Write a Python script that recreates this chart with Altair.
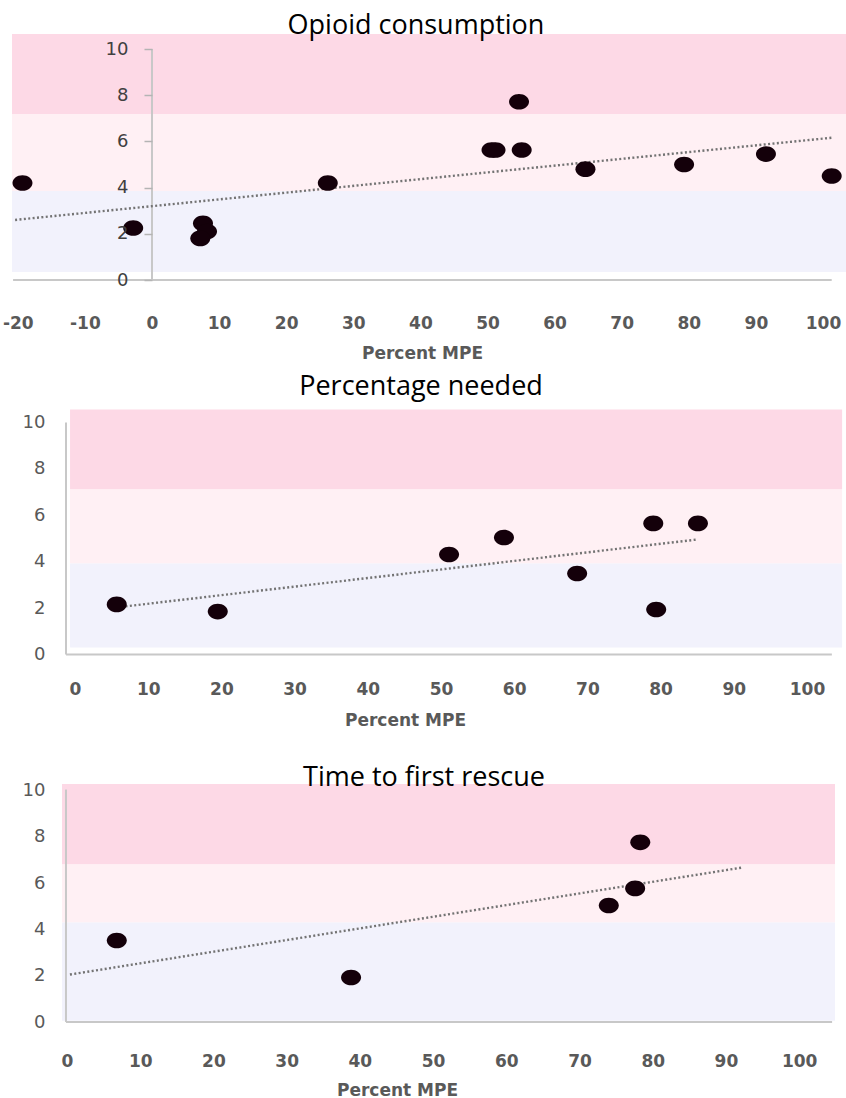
import altair as alt
import pandas as pd

# ---- Opioid consumption ----
opioid_mpe = [-19.3, -2.8, 7.6, 8.2, 7.2, 26.2, 50.6, 51.2, 54.7, 55.1, 64.6, 79.3, 91.5, 101.3]
opioid_score = [4.2, 2.25, 2.45, 2.1, 1.8, 4.2, 5.63, 5.63, 7.72, 5.63, 4.8, 5.0, 5.45, 4.5]
opioid_trend_mpe = [-20.4, 101.3]
opioid_trend_score = [2.6, 6.16]
opioid_band_low = [7.19, 3.85, 0.35]
opioid_band_high = [10.65, 7.19, 3.85]
opioid_band_mpe = [-20.86, 103.43]

# ---- Percentage needed ----
needed_mpe = [5.7, 19.5, 51.1, 58.6, 68.6, 79.0, 85.1, 79.4]
needed_score = [2.16, 1.85, 4.31, 5.04, 3.49, 5.65, 5.65, 1.94]
needed_trend_mpe = [5.7, 85.1]
needed_trend_score = [2.03, 4.96]
needed_band_low = [7.11, 3.92, 0.30]
needed_band_high = [10.56, 7.11, 3.92]
needed_band_mpe = [-0.68, 104.8]

# ---- Time to first rescue ----
rescue_mpe = [6.8, 38.8, 74.0, 77.6, 78.3]
rescue_score = [3.52, 1.92, 5.03, 5.77, 7.76]
rescue_trend_mpe = [0.4, 92.2]
rescue_trend_score = [2.05, 6.67]
rescue_band_low = [6.80, 4.30, 0.05]
rescue_band_high = [10.28, 6.80, 4.30]
rescue_band_mpe = [-0.68, 104.9]

band_names = ["high", "moderate", "low"]
band_colors = ["#FDD9E6", "#FFF0F4", "#F2F2FC"]

opioid_x_ticks = list(range(-20, 101, 10))
x_ticks = list(range(0, 101, 10))
y_ticks = [0, 2, 4, 6, 8, 10]

ELLIPSE = "M-1,0A1,0.78,0,1,0,1,0A1,0.78,0,1,0,-1,0Z"
AXIS_GREY = "#595959"
LINE_GREY = "#c8c8c8"


def panel(title, title_offset, title_dx,
          mpe, score, trend_mpe, trend_score,
          band_low, band_high, band_mpe,
          x_domain, y_domain, height, x_values,
          x_span, y_axis_at, y_axis_top,
          y_axis_px, y_ticks_on, y_label_pad, y_label_color,
          x_label_pad, x_title_x, x_title_y):
    xs = alt.Scale(domain=x_domain, nice=False, zero=False)
    ys = alt.Scale(domain=y_domain, nice=False, zero=False)

    x_axis = alt.Axis(
        values=x_values, domain=False, ticks=False, tickSize=0, grid=False,
        zindex=1, labelExpr="'' + datum.value",
        labelFlush=False, labelOverlap=False, labelPadding=x_label_pad,
        labelFont="DejaVu Sans", labelFontWeight="bold", labelFontSize=17,
        labelColor=AXIS_GREY,
        title="Percent MPE", titleFont="DejaVu Sans", titleFontWeight="bold",
        titleFontSize=17, titleColor=AXIS_GREY, titleX=x_title_x,
        titleY=x_title_y, titleBaseline="top", titleAlign="center",
    )
    y_axis = alt.Axis(
        values=y_ticks, domain=False, ticks=y_ticks_on, zindex=1,
        tickSize=8 if y_ticks_on else 0, tickColor="#b4b4b4", tickWidth=1.5,
        grid=False, offset=-y_axis_px, labelPadding=y_label_pad,
        labelOverlap=False,
        labelFont="DejaVu Sans", labelFontSize=18, labelColor=y_label_color,
        title="",
    )

    def X(field):
        return alt.X(field, type="quantitative", scale=xs, axis=x_axis)

    def Y(field):
        return alt.Y(field, type="quantitative", scale=ys, axis=y_axis)

    bands = pd.DataFrame({
        "band": band_names,
        "lo": band_low,
        "hi": band_high,
        "x0": [band_mpe[0]] * 3,
        "x1": [band_mpe[1]] * 3,
    })
    band_layer = alt.Chart(bands).mark_rect().encode(
        x=X("x0"), x2="x1", y=Y("lo"), y2="hi",
        color=alt.Color("band:N", legend=None,
                        scale=alt.Scale(domain=band_names, range=band_colors)),
    )

    x_line = alt.Chart(pd.DataFrame({"x0": [x_span[0]], "x1": [x_span[1]], "lo": [0]})).mark_rule(
        color=LINE_GREY, strokeWidth=2
    ).encode(x=X("x0"), x2="x1", y=Y("lo"))

    y_line = alt.Chart(pd.DataFrame({"x0": [y_axis_at], "lo": [0], "hi": [y_axis_top]})).mark_rule(
        color=LINE_GREY, strokeWidth=2
    ).encode(x=X("x0"), y=Y("lo"), y2="hi")

    trend = alt.Chart(pd.DataFrame({"x0": trend_mpe, "lo": trend_score})).mark_line(
        color="#737373", strokeWidth=2.4, strokeDash=[2, 2.4]
    ).encode(x=X("x0"), y=Y("lo"))

    pts = alt.Chart(pd.DataFrame({"x0": mpe, "lo": score})).mark_point(
        shape=ELLIPSE, size=400, filled=True, opacity=1, color="#14000a", strokeWidth=0
    ).encode(x=X("x0"), y=Y("lo"))

    return alt.layer(band_layer, x_line, y_line, trend, pts).properties(
        width=846, height=height,
        title=alt.TitleParams(
            title, font="Open Sans", fontSize=27, fontWeight="normal", color="#000000",
            anchor="middle", frame="group", offset=title_offset, dx=title_dx,
            baseline="alphabetic",
        ),
    )


p1 = panel("Opioid consumption", -27, -7,
           opioid_mpe, opioid_score, opioid_trend_mpe, opioid_trend_score,
           opioid_band_low, opioid_band_high, opioid_band_mpe,
           [-22.65, 103.43], [0, 10.65], 246, opioid_x_ticks,
           [-20.7, 101.3], 0, 10,
           152, True, 16, "#404040",
           35, 422, 65)

p2 = panel("Percentage needed", -12, -2,
           needed_mpe, needed_score, needed_trend_mpe, needed_trend_score,
           needed_band_low, needed_band_high, needed_band_mpe,
           [-10.25, 105.33], [0, 10.56], 245, x_ticks,
           [-1.23, 103.4], -1.23, 10,
           66, False, 21, AXIS_GREY,
           27, 405, 58)

p3 = panel("Time to first rescue", -32, 1,
           rescue_mpe, rescue_score, rescue_trend_mpe, rescue_trend_score,
           rescue_band_low, rescue_band_high, rescue_band_mpe,
           [-9.15, 106.4], [0, 10.28], 238, x_ticks,
           [-0.14, 104.5], -0.14, 10.04,
           66, False, 21, AXIS_GREY,
           31, 397, 60)

chart = alt.vconcat(p1, p2, p3, spacing=129.5, bounds="flush").properties(
    padding={"top": 12, "left": 0, "right": 0, "bottom": 0},
    background="white",
).configure_view(strokeWidth=0)

chart.save("out.html", embed_options={"renderer": "svg", "actions": False})
